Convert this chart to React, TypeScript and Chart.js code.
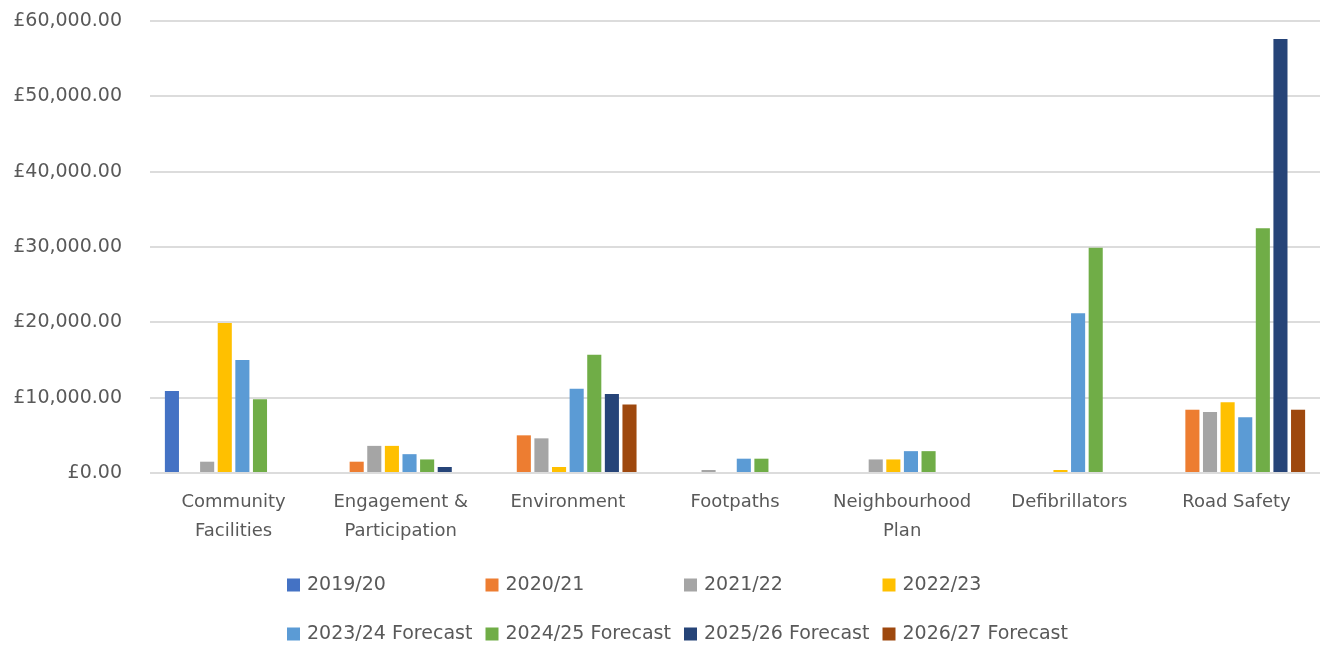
import React, { useEffect, useRef } from "react";
import { Chart, registerables } from "chart.js";

Chart.register(...registerables);

const categories: (string | string[])[] = [
  ["Community", "Facilities"],
  ["Engagement &", "Participation"],
  "Environment",
  "Footpaths",
  ["Neighbourhood", "Plan"],
  "Defibrillators",
  "Road Safety",
];

const seriesNames = [
  "2019/20",
  "2020/21",
  "2021/22",
  "2022/23",
  "2023/24 Forecast",
  "2024/25 Forecast",
  "2025/26 Forecast",
  "2026/27 Forecast",
];

const v2019_20 = [10900, 0, 0, 0, 0, 0, 0];
const v2020_21 = [0, 1500, 5000, 0, 0, 0, 8400];
const v2021_22 = [1500, 3600, 4600, 400, 1800, 0, 8100];
const v2022_23 = [19900, 3600, 800, 0, 1800, 400, 9400];
const v2023_24F = [15000, 2500, 11200, 1900, 2900, 21200, 7400];
const v2024_25F = [9800, 1800, 15700, 1900, 2900, 29900, 32500];
const v2025_26F = [0, 800, 10500, 0, 0, 0, 57600];
const v2026_27F = [0, 0, 9100, 0, 0, 0, 8400];

const seriesValues = [v2019_20, v2020_21, v2021_22, v2022_23, v2023_24F, v2024_25F, v2025_26F, v2026_27F];

const colors = ["#4472C4", "#ED7D31", "#A5A5A5", "#FFC000", "#5B9BD5", "#70AD47", "#264478", "#9E480E"];

const yTicks = [0, 10000, 20000, 30000, 40000, 50000, 60000];

const FONT = "'DejaVu Sans', sans-serif";
const TEXT = "#595959";

const gridLegend = {
  id: "gridLegend",
  afterDraw(chart: any) {
    const ctx = chart.ctx;
    ctx.save();
    ctx.font = `19px ${FONT}`;
    ctx.textBaseline = "middle";
    ctx.textAlign = "left";
    const x0 = 287;
    const step = 198.5;
    const rows = [585, 634];
    seriesNames.forEach((name, i) => {
      const col = i % 4;
      const row = Math.floor(i / 4);
      const x = x0 + col * step;
      const y = rows[row];
      ctx.fillStyle = colors[i];
      ctx.fillRect(x, y - 6.5, 13, 13);
      ctx.fillStyle = TEXT;
      ctx.fillText(name, x + 20, y);
    });
    ctx.restore();
  },
};

export default function App() {
  const ref = useRef<HTMLCanvasElement | null>(null);
  useEffect(() => {
    if (!ref.current) return;
    const chart = new Chart(ref.current, {
      type: "bar",
      data: {
        labels: categories as any,
        datasets: seriesNames.map((name, i) => ({
          label: name,
          data: seriesValues[i],
          backgroundColor: colors[i],
          borderWidth: 0,
          categoryPercentage: 0.843,
          barPercentage: 0.8,
        })),
      },
      options: {
        animation: false,
        responsive: true,
        maintainAspectRatio: false,
        layout: { padding: { top: 21, right: 12, left: 0, bottom: 0 } },
        plugins: {
          legend: { display: false },
          tooltip: { enabled: false },
        },
        scales: {
          x: {
            grid: { display: false, drawTicks: false },
            border: { display: false },
            ticks: {
              color: TEXT,
              font: { family: FONT, size: 18, lineHeight: 1.6 },
              padding: 15,
              maxRotation: 0,
              autoSkip: false,
            },
            afterFit: (s: any) => {
              s.height = 174;
            },
          },
          y: {
            min: 0,
            max: 60000,
            afterBuildTicks: (s: any) => {
              s.ticks = yTicks.map((v) => ({ value: v }));
            },
            grid: { color: "#dcdcdc", lineWidth: 2, drawTicks: false },
            border: { display: false },
            ticks: {
              color: TEXT,
              font: { family: FONT, size: 19 },
              padding: 28,
              callback: (v: any) =>
                "£" + Number(v).toLocaleString("en-GB", { minimumFractionDigits: 2, maximumFractionDigits: 2 }),
            },
            afterFit: (s: any) => {
              s.width = 150;
              s.paddingTop = 0;
              s.paddingBottom = 0;
            },
          },
        },
      },
      plugins: [gridLegend],
    });
    return () => chart.destroy();
  }, []);
  return (
    <div style={{ position: "fixed", left: 0, top: 0, width: 1332, height: 647, background: "#fff" }}>
      <canvas ref={ref} />
    </div>
  );
}
